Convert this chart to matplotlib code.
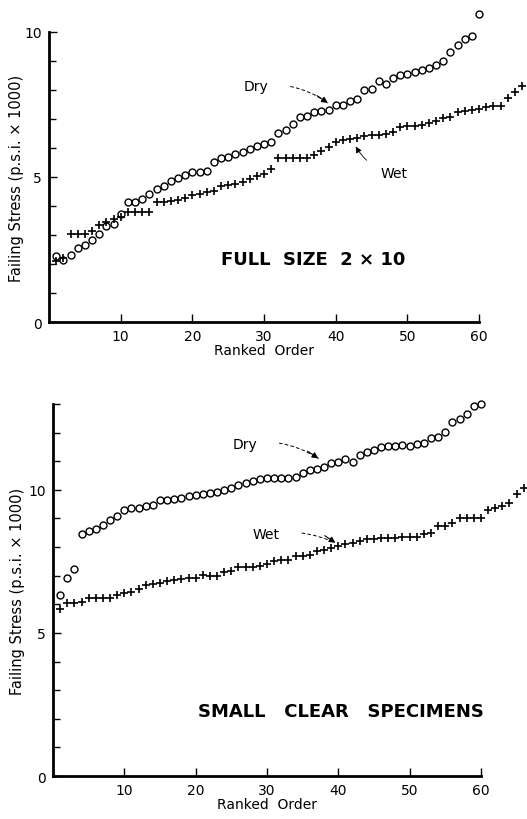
import numpy as np
import matplotlib
matplotlib.use("Agg")
import matplotlib.pyplot as plt
from matplotlib.ticker import MultipleLocator

# full size 2 x 10, failing stress (psi x 1000) in ranked order
full_dry = [2.27, 2.14, 2.30, 2.54, 2.65, 2.84, 3.03, 3.32, 3.38, 3.72,
            4.15, 4.15, 4.24, 4.41, 4.59, 4.70, 4.87, 4.96, 5.07, 5.16,
            5.18, 5.22, 5.51, 5.64, 5.68, 5.79, 5.85, 5.97, 6.06, 6.14,
            6.19, 6.52, 6.63, 6.83, 7.06, 7.09, 7.23, 7.26, 7.31, 7.48,
            7.48, 7.63, 7.69, 8.01, 8.03, 8.29, 8.19, 8.40, 8.52, 8.55,
            8.60, 8.67, 8.75, 8.86, 9.01, 9.30, 9.55, 9.76, 9.84, 10.63]
full_wet = [2.11, 2.20, 3.03, 3.03, 3.03, 3.15, 3.34, 3.46, 3.55, 3.61,
            3.78, 3.78, 3.78, 3.78, 4.13, 4.15, 4.18, 4.21, 4.26, 4.38,
            4.41, 4.47, 4.53, 4.70, 4.72, 4.76, 4.82, 4.93, 5.02, 5.10,
            5.29, 5.64, 5.64, 5.64, 5.64, 5.64, 5.74, 5.91, 6.02, 6.19,
            6.27, 6.31, 6.33, 6.40, 6.43, 6.43, 6.48, 6.54, 6.71, 6.75,
            6.77, 6.79, 6.86, 6.94, 7.02, 7.06, 7.23, 7.26, 7.29, 7.34,
            7.40, 7.43, 7.46, 7.71, 7.92, 8.15]

# small clear specimens
clear_dry = [6.34, 6.92, 7.23, 8.47, 8.55, 8.63, 8.78, 8.93, 9.07, 9.28,
             9.36, 9.36, 9.42, 9.48, 9.63, 9.63, 9.67, 9.73, 9.77, 9.83,
             9.86, 9.89, 9.94, 10.00, 10.05, 10.17, 10.25, 10.32, 10.37, 10.40,
             10.40, 10.40, 10.40, 10.44, 10.58, 10.70, 10.72, 10.81, 10.95, 10.99,
             11.07, 10.99, 11.22, 11.34, 11.39, 11.50, 11.53, 11.53, 11.57, 11.53,
             11.60, 11.63, 11.80, 11.85, 12.03, 12.38, 12.46, 12.65, 12.93, 13.00]
clear_wet = [5.82, 6.03, 6.03, 6.07, 6.23, 6.23, 6.23, 6.23, 6.34, 6.39,
             6.42, 6.53, 6.66, 6.72, 6.74, 6.80, 6.84, 6.88, 6.92, 6.92,
             7.04, 6.98, 7.00, 7.12, 7.15, 7.30, 7.30, 7.30, 7.35, 7.42,
             7.50, 7.54, 7.56, 7.68, 7.70, 7.74, 7.85, 7.91, 7.97, 8.05,
             8.12, 8.16, 8.20, 8.28, 8.28, 8.31, 8.31, 8.31, 8.35, 8.35,
             8.35, 8.47, 8.49, 8.72, 8.75, 8.84, 9.01, 9.01, 9.01, 9.01,
             9.30, 9.36, 9.42, 9.54, 9.86, 10.06]

x_ticks = [10, 20, 30, 40, 50, 60]
ylabel = "Failing Stress (p.s.i. \u00d7 1000)"

plt.rcParams['font.family'] = ['DejaVu Sans']


def style_axes(ax, ytop, ymajor, label_x):
    ax.set_xlim(0, 60)
    ax.set_ylim(0, ytop)
    for s in ("top", "right"):
        ax.spines[s].set_visible(False)
    for s in ("left", "bottom"):
        ax.spines[s].set_linewidth(2)
    ax.set_xticks(x_ticks)
    ax.set_yticks(ymajor)
    ax.yaxis.set_minor_locator(MultipleLocator(1))
    ax.tick_params(direction="in", length=6, width=1, labelsize=10, pad=5)
    ax.tick_params(which="minor", direction="in", length=5, width=1)
    ax.set_xlabel("Ranked  Order", fontsize=10, labelpad=0)
    ax.set_ylabel(ylabel, fontsize=10.5)
    ax.yaxis.set_label_coords(label_x, 0.5)


def pointer(ax, text, xy, xytext, rad):
    # text with a dashed lead line and a solid arrow head
    ax.annotate(text, xy=xy, xytext=xytext, fontsize=10, ha="center", va="center",
                arrowprops=dict(arrowstyle="-", lw=0.7, linestyle=(0, (3, 3)),
                                connectionstyle="arc3,rad=%s" % rad,
                                shrinkA=14, shrinkB=0))
    ax.annotate("", xy=xy, xytext=(xy[0] - 1.5, xy[1] + 0.25),
                arrowprops=dict(arrowstyle="-|>", lw=0.8, color="black",
                                mutation_scale=9, shrinkA=0, shrinkB=0))


fig = plt.figure(figsize=(5.27, 8.20), dpi=100)

ax1 = fig.add_axes([0.093, 0.606, 0.816, 0.354])
r = np.arange(1, len(full_dry) + 1)
ax1.plot(r, full_dry, "o", mfc="none", mec="black", ms=5, mew=1, clip_on=False)
r = np.arange(1, len(full_wet) + 1)
ax1.plot(r, full_wet, "+", color="black", ms=6, mew=1.2, clip_on=False)
style_axes(ax1, 10, [0, 5, 10], -0.058)
pointer(ax1, "Dry", (38.9, 7.55), (28.9, 8.14), -0.2)
ax1.annotate("Wet", xy=(42.8, 6.05), xytext=(48.2, 5.15), fontsize=10,
             ha="center", va="center",
             arrowprops=dict(arrowstyle="-|>", lw=0.6, color="black",
                             connectionstyle="arc3,rad=-0.25",
                             mutation_scale=9, shrinkA=10, shrinkB=0))
ax1.text(36.8, 2.17, "FULL  SIZE  2 \u00d7 10", fontsize=13, fontweight="bold",
         ha="center", va="center")

ax2 = fig.add_axes([0.1006, 0.0524, 0.812, 0.4537])
r = np.arange(1, len(clear_dry) + 1)
ax2.plot(r, clear_dry, "o", mfc="none", mec="black", ms=5, mew=1, clip_on=False)
r = np.arange(1, len(clear_wet) + 1)
ax2.plot(r, clear_wet, "+", color="black", ms=6, mew=1.2, clip_on=False)
style_axes(ax2, 13, [0, 5, 10], -0.066)
pointer(ax2, "Dry", (37.2, 11.1), (26.9, 11.6), -0.2)
pointer(ax2, "Wet", (39.6, 8.15), (29.9, 8.47), -0.15)
ax2.text(40.4, 2.26, "SMALL   CLEAR   SPECIMENS", fontsize=13, fontweight="bold",
         ha="center", va="center")

fig.savefig("out.png", dpi=100)
